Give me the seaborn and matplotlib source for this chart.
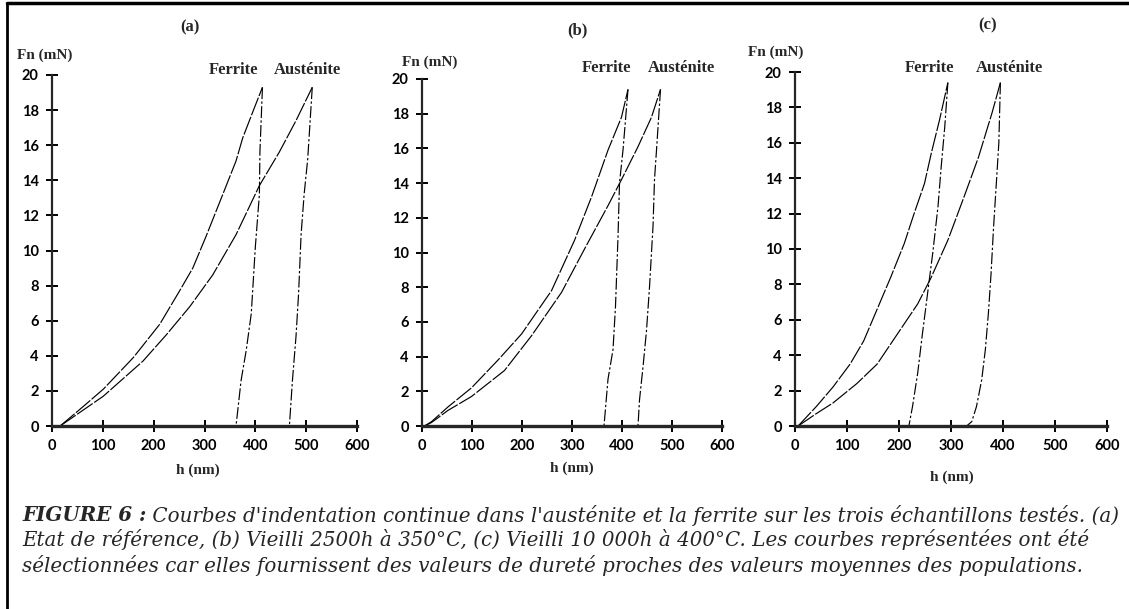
import numpy as np
import pandas as pd
import seaborn as sb
import matplotlib.pyplot as plt
from matplotlib.lines import Line2D

# courbes : h (nm), Fn (mN)
# (a) etat de reference
fer_a_charge_h = [16, 61, 101, 160, 212, 251, 277, 303, 336, 362, 375, 395, 414]
fer_a_charge_F = [0, 1.1, 2.1, 3.9, 5.8, 7.7, 9.0, 10.8, 13.2, 15.1, 16.4, 17.9, 19.3]
fer_a_decharge_h = [414, 409, 408, 400, 392, 382, 372, 362]
fer_a_decharge_F = [19.3, 15.6, 13.2, 10.2, 6.4, 4.3, 2.6, 0]
aus_a_charge_h = [16, 61, 101, 179, 225, 271, 316, 362, 408, 447, 480, 512]
aus_a_charge_F = [0, 0.9, 1.7, 3.7, 5.2, 6.8, 8.6, 10.9, 13.7, 15.6, 17.4, 19.3]
aus_a_decharge_h = [512, 503, 496, 490, 485, 480, 473, 467]
aus_a_decharge_F = [19.3, 15.2, 13.2, 10.9, 7.5, 5.1, 2.6, 0]

# (b) vieilli 2500h a 350C
fer_b_charge_h = [5, 19, 52, 99, 152, 199, 259, 305, 339, 372, 399, 412]
fer_b_charge_F = [0, 0.25, 1.1, 2.2, 3.8, 5.3, 7.8, 10.7, 13.2, 15.9, 17.8, 19.4]
fer_b_decharge_h = [412, 402, 395, 392, 387, 382, 372, 364]
fer_b_decharge_F = [19.4, 15.9, 14.0, 10.9, 6.9, 4.4, 2.7, 0]
aus_b_charge_h = [5, 19, 52, 99, 165, 219, 279, 325, 372, 399, 432, 459, 477]
aus_b_charge_F = [0, 0.2, 0.9, 1.7, 3.2, 5.2, 7.7, 10.2, 12.7, 14.2, 16.1, 17.8, 19.4]
aus_b_decharge_h = [477, 469, 465, 462, 455, 449, 442, 435, 432]
aus_b_decharge_F = [19.4, 15.9, 14.2, 11.5, 8.0, 5.5, 3.4, 1.5, 0]

# (c) vieilli 10 000h a 400C
fer_c_charge_h = [6, 41, 73, 106, 132, 158, 184, 210, 229, 249, 262, 278, 294]
fer_c_charge_F = [0, 1.1, 2.2, 3.5, 4.8, 6.6, 8.4, 10.3, 12.0, 13.7, 15.4, 17.3, 19.4]
fer_c_decharge_h = [294, 288, 281, 275, 265, 255, 245, 236, 226, 219]
fer_c_decharge_F = [19.4, 16.9, 14.6, 12.4, 9.8, 7.5, 5.2, 3.0, 1.1, 0]
aus_c_charge_h = [6, 41, 73, 119, 158, 197, 236, 262, 294, 327, 353, 379, 395]
aus_c_charge_F = [0, 0.7, 1.3, 2.4, 3.5, 5.2, 6.9, 8.4, 10.5, 13.1, 15.2, 17.7, 19.4]
aus_c_decharge_h = [395, 392, 388, 382, 377, 372, 366, 359, 349, 340, 330]
aus_c_decharge_F = [19.4, 16.0, 14.1, 11.3, 8.6, 6.4, 4.3, 2.6, 1.1, 0.25, 0]

panneaux = [
    ('(a)', [(fer_a_charge_h, fer_a_charge_F), (fer_a_decharge_h, fer_a_decharge_F),
             (aus_a_charge_h, aus_a_charge_F), (aus_a_decharge_h, aus_a_decharge_F)]),
    ('(b)', [(fer_b_charge_h, fer_b_charge_F), (fer_b_decharge_h, fer_b_decharge_F),
             (aus_b_charge_h, aus_b_charge_F), (aus_b_decharge_h, aus_b_decharge_F)]),
    ('(c)', [(fer_c_charge_h, fer_c_charge_F), (fer_c_decharge_h, fer_c_decharge_F),
             (aus_c_charge_h, aus_c_charge_F), (aus_c_decharge_h, aus_c_decharge_F)]),
]

x_ticks = [0, 100, 200, 300, 400, 500, 600]
y_ticks = [0, 2, 4, 6, 8, 10, 12, 14, 16, 18, 20]

legende = [
    " Courbes d'indentation continue dans l'austénite et la ferrite sur les trois échantillons testés. (a)",
    "Etat de référence, (b) Vieilli 2500h à 350°C, (c) Vieilli 10 000h à 400°C. Les courbes représentées ont été",
    "sélectionnées car elles fournissent des valeurs de dureté proches des valeurs moyennes des populations.",
]

sb.set_style('ticks')
plt.rcParams['font.family'] = ['Liberation Serif', 'DejaVu Serif']

W, H = 1129, 609
fig = plt.figure(figsize=(W / 100, H / 100), dpi=100)

def fx(px):
    return px / W

def fy(py):
    return 1 - py / H

# position des axes en pixels : gauche, droite, haut (y=20)
boites = [(52, 357, 75), (422, 722, 79), (795, 1107, 72)]
titres_pos = [(190, 27), (577, 30), (988, 25)]
fn_pos = [(17, 55), (402, 62), (748, 52)]
lab_pos = [((234, 70), (307, 70)), ((607, 68), (681, 68)), ((930, 68), (1009, 68))]
h_pos = [(198, 470), (572, 468), (952, 477)]

for i, (titre, courbes) in enumerate(panneaux):
    g, d, t = boites[i]
    ax = fig.add_axes([fx(g), fy(426), fx(d - g), (426 - t) / H])
    for k, (hh, ff) in enumerate(courbes):
        df = pd.DataFrame({'h': hh, 'F': ff})
        sb.lineplot(data=df, x='h', y='F', sort=False, estimator=None, ax=ax,
                    color='black', lw=0.85,
                    linestyle=(0, (16, 1.5)) if k % 2 == 0 else (0, (10, 2, 2, 2)))
    ax.set_xlim(0, 600)
    ax.set_ylim(0, 20)
    ax.set_xticks(x_ticks)
    ax.set_yticks(y_ticks)
    ax.set_xlabel('')
    ax.set_ylabel('')
    for s in ['top', 'right']:
        ax.spines[s].set_visible(False)
    ax.spines['left'].set_linewidth(1.6)
    ax.spines['bottom'].set_linewidth(2.4)
    ax.tick_params(direction='inout', length=9, width=1.4, pad=5, colors='black')
    for lab in ax.get_xticklabels() + ax.get_yticklabels():
        lab.set_fontfamily('Lato')
        lab.set_fontweight('bold')
        lab.set_fontsize(10.5)
    ax.patch.set_alpha(0)

    fig.text(fx(titres_pos[i][0]), fy(titres_pos[i][1]), titre, ha='center', va='center',
             fontsize=12, fontweight='bold')
    fig.text(fx(fn_pos[i][0]), fy(fn_pos[i][1]), 'Fn (mN)', ha='left', va='center',
             fontsize=11, fontweight='bold')
    (xf, yf), (xa, ya) = lab_pos[i]
    fig.text(fx(xf), fy(yf), 'Ferrite', ha='center', va='center', fontsize=12, fontweight='bold')
    fig.text(fx(xa), fy(ya), 'Austénite', ha='center', va='center', fontsize=12, fontweight='bold')
    fig.text(fx(h_pos[i][0]), fy(h_pos[i][1]), 'h (nm)', ha='center', va='center',
             fontsize=11, fontweight='bold')

# cadre
fig.add_artist(Line2D([fx(7), 1], [fy(3), fy(3)], color='black', lw=2.5))
fig.add_artist(Line2D([fx(7), fx(7)], [fy(3), 0], color='black', lw=2.0))

# legende sous les courbes
cap = dict(fontfamily='DejaVu Serif', fontstyle='italic', fontsize=14.3)
t0 = fig.text(fx(22), fy(515), 'FIGURE 6 :', ha='left', va='center', fontweight='bold', **cap)
fig.axes[0].annotate(legende[0], xy=(1, 0.5), xycoords=t0, ha='left', va='center',
                     annotation_clip=False, **cap)
fig.text(fx(22), fy(540), legende[1], ha='left', va='center', **cap)
fig.text(fx(22), fy(565), legende[2], ha='left', va='center', **cap)

fig.savefig('out.png', dpi=100)
